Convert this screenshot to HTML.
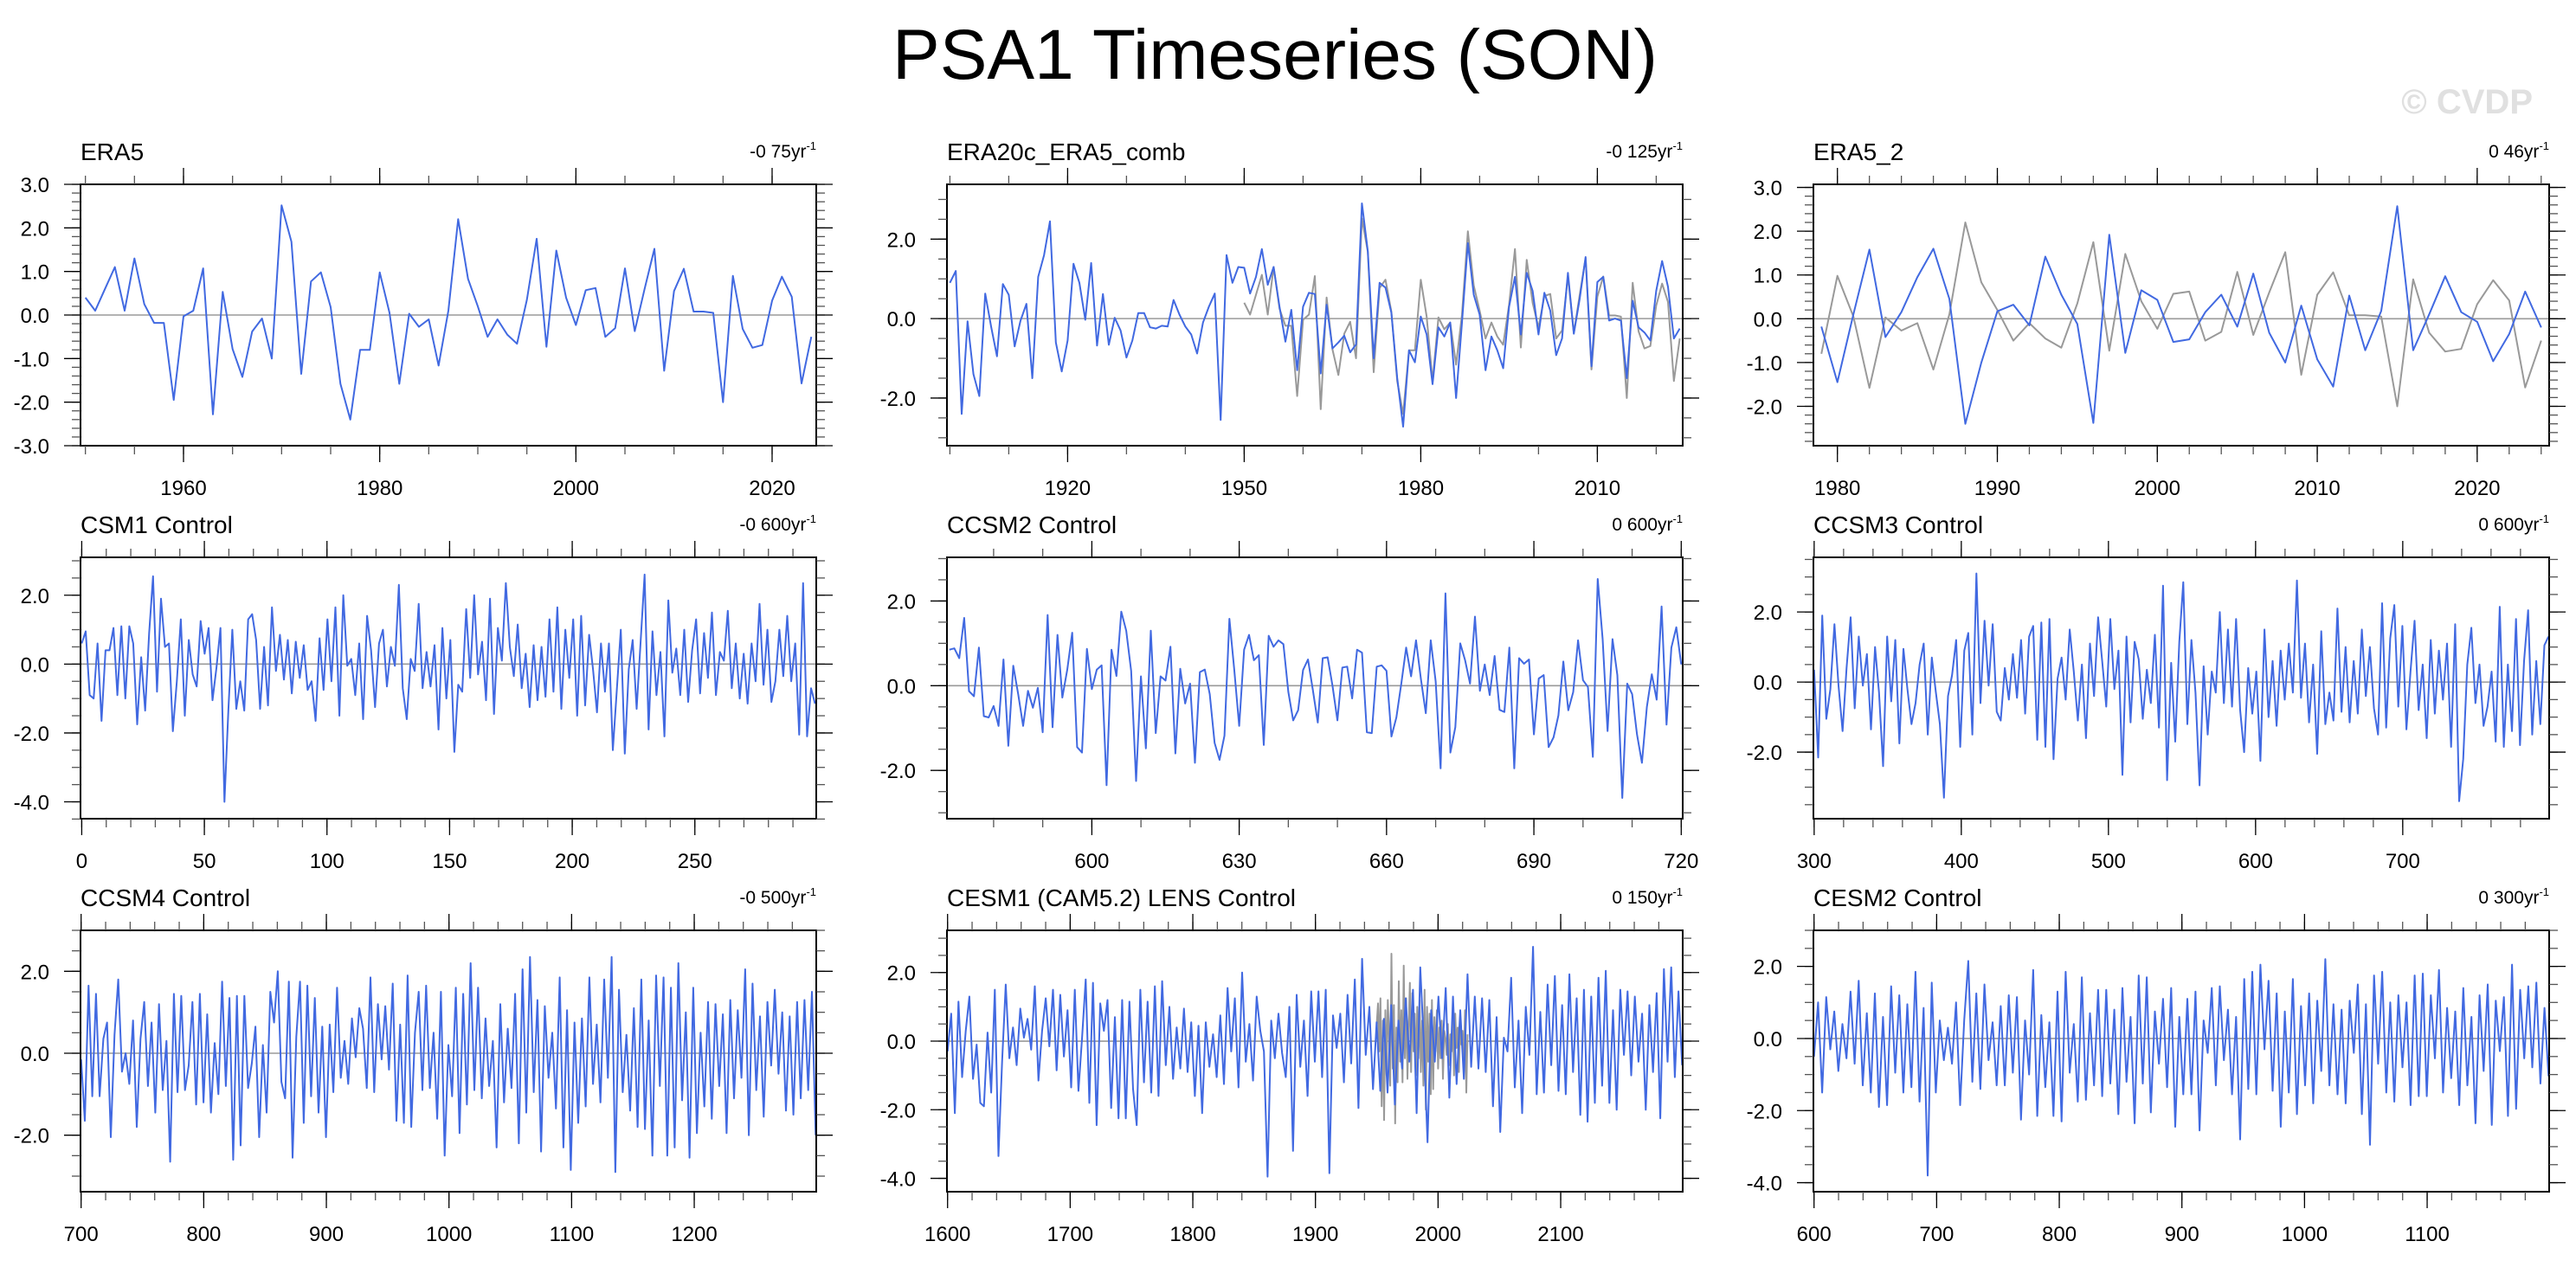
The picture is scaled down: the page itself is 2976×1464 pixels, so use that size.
<!DOCTYPE html>
<html>
<head>
<meta charset="utf-8">
<style>
  html,body{margin:0;padding:0;background:#fff;}
  svg{display:block;}
  text{font-family:"Liberation Sans",Arial,sans-serif;}
</style>
</head>
<body>
<svg id="chart" xmlns="http://www.w3.org/2000/svg" width="2976" height="1464" viewBox="0 0 2976 1464">
  <rect x="0" y="0" width="2976" height="1464" fill="#fff"/>
  <text x="1473" y="91" font-size="82" text-anchor="middle" fill="#000">PSA1 Timeseries (SON)</text>
  <text x="2926" y="131" font-size="40" font-weight="bold" text-anchor="end" fill="#e0e0e0">© CVDP</text>
</svg>
<script>
// ---- data arrays ----
const era5Start = 1950;
const era5 = [0.4,0.1,0.6,1.1,0.1,1.3,0.25,-0.18,-0.18,-1.95,-0.03,0.1,1.07,-2.28,0.53,-0.78,-1.42,-0.38,-0.08,-1.0,2.52,1.68,-1.35,0.77,0.98,0.18,-1.58,-2.4,-0.8,-0.8,0.98,0.05,-1.58,0.03,-0.27,-0.1,-1.16,0.1,2.2,0.83,0.2,-0.5,-0.1,-0.45,-0.66,0.35,1.75,-0.73,1.48,0.4,-0.23,0.57,0.62,-0.5,-0.3,1.07,-0.37,0.6,1.52,-1.28,0.55,1.06,0.08,0.08,0.05,-2.0,0.9,-0.32,-0.75,-0.69,0.33,0.88,0.42,-1.57,-0.5];

const era20cStart = 1900;
const era20c = [0.9,1.2,-2.4,-0.07,-1.4,-1.95,0.63,-0.2,-0.95,0.87,0.6,-0.7,-0.05,0.37,-1.5,1.05,1.6,2.45,-0.6,-1.33,-0.55,1.38,0.9,-0.03,1.4,-0.68,0.62,-0.66,0.02,-0.3,-0.98,-0.55,0.14,0.14,-0.22,-0.25,-0.18,-0.2,0.47,0.1,-0.2,-0.4,-0.88,-0.1,0.3,0.63,-2.55,1.6,0.9,1.3,1.28,0.63,1.05,1.75,0.85,1.3,0.3,-0.58,0.22,-1.3,0.3,0.65,0.62,-1.38,0.35,-0.75,-0.6,-0.43,-0.85,-0.65,2.9,1.7,-1.0,0.9,0.78,0.15,-1.5,-2.72,-0.8,-1.1,0.05,-0.4,-1.65,-0.22,-0.45,-0.1,-2.0,-0.1,1.9,0.6,0.1,-1.3,-0.45,-0.8,-1.25,0.3,1.05,-0.4,1.15,0.7,-0.4,0.65,0.2,-0.92,-0.5,1.15,-0.38,0.5,1.55,-1.2,0.92,1.05,-0.05,0.0,-0.05,-1.5,0.45,-0.22,-0.35,-0.55,0.7,1.45,0.8,-0.5,-0.25];

const era5b2Start = 1979;
const era5b2 = [-0.18,-1.45,0.1,1.58,-0.42,0.15,0.95,1.6,0.45,-2.4,-1.0,0.17,0.32,-0.15,1.42,0.55,-0.12,-2.38,1.92,-0.78,0.65,0.43,-0.53,-0.47,0.15,0.55,-0.18,1.03,-0.32,-1.0,0.3,-0.93,-1.55,0.53,-0.72,0.18,2.57,-0.72,0.1,0.97,0.15,-0.07,-0.97,-0.35,0.62,-0.2];

const csm1 = [0.6,0.95,-0.9,-1.0,0.6,-1.65,0.4,0.4,1.05,-0.9,1.1,-1.0,1.1,0.6,-1.75,0.2,-1.35,0.9,2.55,-0.8,1.9,0.5,0.6,-1.95,-0.5,1.3,-1.5,0.7,-0.3,-0.65,1.25,0.3,1.05,-1.05,-0.1,1.05,-4.0,-1.3,1.0,-1.3,-0.5,-1.35,1.3,1.45,0.7,-1.3,0.5,-1.2,1.65,-0.2,0.85,-0.45,0.7,-0.85,0.65,-0.4,0.55,-0.75,-0.5,-1.65,0.75,-0.75,1.3,-0.5,1.65,-1.5,2.0,-0.05,0.15,-0.9,0.6,-1.6,1.4,0.4,-1.25,0.6,1.0,-0.65,0.5,-0.05,2.3,-0.7,-1.6,0.15,-0.2,1.75,-0.7,0.35,-0.65,0.55,-1.9,1.05,-1.0,0.7,-2.55,-0.6,-0.8,1.6,-0.4,2.0,-0.3,0.65,-1.05,1.9,-1.45,1.05,0.1,2.35,0.5,-0.35,1.15,-0.7,0.3,-1.25,0.55,-1.05,0.5,-0.95,1.3,-0.8,1.65,-1.3,1.0,-0.4,1.3,-1.5,1.4,-1.2,0.85,-0.15,-1.4,0.6,-0.8,0.6,-2.5,-0.75,1.0,-2.6,-0.15,0.7,-1.3,0.65,2.6,-1.9,0.95,-0.9,0.35,-2.1,1.85,-0.25,0.45,-0.9,1.0,-1.1,0.4,1.3,-0.85,0.9,-0.4,1.5,-0.9,0.35,0.1,1.55,-0.7,0.6,-1.0,0.3,-1.15,0.6,-0.5,1.75,-0.6,1.0,-1.1,-0.5,1.0,-0.35,1.4,-0.5,0.6,-2.05,2.35,-2.1,-0.7,-1.15];
const csm1Range = [0, 299];

const ccsm2 = [0.85,0.88,0.65,1.6,-0.13,-0.25,0.9,-0.72,-0.75,-0.48,-0.95,0.62,-1.42,0.47,-0.2,-0.95,-0.12,-0.52,-0.05,-1.1,1.67,-0.98,1.2,-0.28,0.38,1.25,-1.45,-1.58,0.87,-0.08,0.38,0.48,-2.35,0.85,0.23,1.75,1.3,0.35,-2.25,0.22,-1.48,1.3,-1.12,0.22,0.12,0.92,-1.6,0.4,-0.42,0.05,-1.82,0.32,0.38,-0.2,-1.35,-1.75,-1.18,1.58,0.38,-0.95,0.85,1.2,0.6,0.72,-1.4,1.18,0.92,1.07,0.98,-0.15,-0.82,-0.58,0.37,0.62,-0.1,-0.87,0.65,0.67,0.0,-0.82,0.43,0.45,-0.3,0.85,0.78,-1.1,-1.12,0.45,0.48,0.35,-1.2,-0.75,0.05,0.9,0.22,1.07,0.15,-0.65,1.07,0.1,-1.95,2.18,-1.58,-0.98,1.0,0.6,0.05,1.63,-0.12,0.5,-0.22,0.7,-0.57,-0.62,0.9,-1.95,0.65,0.52,0.62,-1.15,0.17,0.25,-1.45,-1.22,-0.7,0.57,-0.58,-0.15,1.07,0.13,-0.03,-1.68,2.52,1.1,-1.07,1.1,0.25,-2.65,0.05,-0.2,-1.15,-1.82,-0.5,0.27,-0.33,1.87,-0.92,0.9,1.38,0.5];
const ccsm2Range = [571, 720];

const ccsm3 = [0.35,-2.15,1.9,-1.05,-0.2,1.65,-0.1,-1.4,0.4,1.85,-0.75,1.3,-0.1,0.8,-1.35,1.0,-0.3,-2.4,1.3,-0.55,1.2,-1.75,0.95,-0.2,-1.2,-0.6,0.5,1.1,-1.5,0.7,-0.3,-1.2,-3.3,-0.4,0.2,1.2,-1.85,0.9,1.4,-1.5,3.1,-0.6,1.75,-0.1,1.65,-0.85,-1.1,0.4,-0.5,0.8,-0.45,1.2,-0.9,1.3,1.6,-1.65,1.7,-1.85,1.8,-2.2,0.1,0.7,-0.5,1.5,0.3,-1.1,0.5,-1.6,1.1,-0.4,1.85,0.6,-0.7,1.8,-0.2,0.9,-2.65,1.3,-1.15,1.15,0.65,-1.05,0.35,-0.6,1.35,-1.3,2.75,-2.8,0.55,-1.7,1.15,2.85,-1.2,1.2,-0.3,-2.95,0.45,-1.5,0.3,-0.3,2.0,-0.6,1.5,-0.7,1.8,-0.8,-2.0,0.4,-0.9,0.3,-2.25,1.5,-1.0,0.6,-1.25,0.9,-0.5,1.1,-0.3,2.9,-0.45,1.1,-1.15,0.5,-2.05,1.45,-1.2,-0.3,-1.1,2.1,-0.85,1.0,-1.15,0.6,-0.9,1.5,-0.4,1.0,-0.75,-1.5,2.25,-1.3,1.25,2.2,-0.7,1.6,-1.35,0.3,1.75,-0.8,0.5,-1.6,1.2,-0.9,0.9,-0.5,1.1,-1.85,1.65,-3.4,-2.2,0.5,1.55,-0.6,0.5,-1.25,-0.7,0.3,-1.7,2.15,-1.85,0.5,-1.4,1.8,-1.8,0.6,2.05,-1.5,0.6,-1.2,1.05,1.3];
const ccsm3Range = [300, 799];

const ccsm4 = [-0.15,-1.65,1.65,-1.05,1.45,-1.05,0.35,0.75,-2.05,0.45,1.8,-0.45,0.0,-0.75,0.8,-1.8,0.35,1.25,-0.8,0.75,-1.45,1.2,-0.9,0.3,-2.65,1.45,-0.95,1.4,-0.9,-0.3,1.25,-1.25,1.45,-1.2,0.95,-1.45,0.25,-1.0,1.75,-0.8,1.35,-2.6,1.4,-2.25,1.4,-0.85,-0.25,0.65,-2.05,0.2,-1.45,1.5,0.75,2.0,-0.7,-1.1,1.75,-2.55,0.4,1.75,-1.7,1.65,-1.05,1.35,-1.45,0.65,-2.05,0.7,-0.95,1.6,-0.6,0.3,-0.75,0.85,-0.1,1.1,0.6,-0.85,1.85,-0.95,1.2,-0.15,1.15,-0.4,1.7,-1.65,0.7,-1.7,1.9,-1.8,0.5,1.5,-0.9,1.65,-0.85,0.5,-1.6,1.5,-2.5,0.2,-1.05,1.6,-1.95,1.45,-1.25,2.2,-0.9,1.6,-1.1,0.85,-0.8,0.3,-2.3,1.2,-1.2,0.6,-0.85,1.45,-2.2,2.05,-1.45,2.35,-0.95,1.3,-2.4,1.15,-0.6,0.5,-1.35,1.85,-2.3,1.05,-2.85,0.75,-1.7,0.85,-1.3,1.85,-0.75,0.7,-1.2,1.8,-0.6,2.35,-2.9,1.55,-0.95,0.45,-1.4,1.1,-1.8,1.8,-1.85,0.8,-2.5,1.9,-0.8,1.85,-2.5,1.6,-2.3,2.2,-1.15,1.0,-2.55,1.6,-1.95,0.5,-1.3,1.25,-1.6,1.2,-0.8,0.95,-1.95,1.3,-1.1,1.05,-0.6,2.05,-2.0,1.7,-0.9,0.9,-1.55,1.25,-0.3,1.55,-0.5,1.0,-1.4,0.9,-1.5,1.25,-1.1,1.3,-0.9,1.5,-2.0];
const ccsm4Range = [700, 1299];

const cesm1 = [-0.3,0.8,-2.1,1.15,-1.05,0.3,1.3,-1.1,-0.1,-1.8,-1.9,0.25,-1.5,1.5,-3.35,-0.6,1.65,-0.5,0.4,-0.7,0.95,0.1,0.65,-0.25,1.6,-1.15,0.3,1.25,-0.15,1.5,-0.85,1.35,-0.45,0.9,-1.35,1.5,-1.45,0.1,1.8,-1.8,1.7,-2.45,1.1,0.3,1.2,-1.95,0.7,-2.25,1.2,-2.25,1.15,-1.4,-2.45,1.5,-1.2,1.15,-1.5,1.6,-1.6,1.75,-0.7,1.0,-1.1,0.4,-0.8,0.95,-0.9,0.55,-1.6,0.45,-2.1,0.55,-0.75,0.2,-1.05,0.75,-1.25,1.55,-0.3,1.25,-1.35,2.0,-0.6,0.5,-1.15,1.3,0.3,-0.3,-3.95,0.6,-0.5,0.8,-0.35,-1.05,1.0,-3.2,1.35,-0.75,0.6,-1.6,1.45,-0.6,1.45,-1.05,1.5,-3.85,0.75,-0.2,0.8,-1.2,1.35,-0.65,1.8,-1.95,2.4,-0.4,1.0,-1.4,0.55,-1.45,0.65,-1.5,1.05,-1.85,0.6,-0.8,1.25,-0.6,1.5,-2.1,2.15,-0.1,-2.95,0.9,-0.6,1.3,-0.5,1.55,-1.65,1.3,-1.25,0.9,-1.1,1.95,-0.75,1.3,-0.8,1.25,-0.9,1.2,-1.9,0.7,-2.65,0.1,-0.3,1.85,-1.35,0.6,-2.1,1.0,-0.4,2.75,-1.55,0.85,-1.5,1.65,-0.7,1.9,-1.45,1.05,-1.55,1.95,-0.9,1.25,-2.15,1.5,-2.35,1.3,-1.8,1.85,-1.3,2.05,-1.8,0.9,-2.0,1.5,-0.4,1.45,-1.0,1.3,-0.6,0.8,-2.0,1.05,-0.9,1.4,-2.25,2.1,-0.6,2.15,-1.05,1.45,-0.7];
const cesm1Range = [1600, 2199];
const cesm1Obs = [0.5,1.1,-0.3,1.25,-1.9,0.6,-2.3,0.9,-1.0,1.2,0.2,-1.3,2.55,-0.8,1.05,-2.4,0.4,-1.2,1.75,-0.6,0.9,-1.2,2.2,-0.5,1.25,-1.1,0.4,1.7,-0.9,1.4,-0.3,0.8,-1.0,1.0,-0.5,1.2,-0.9,0.6,-1.3,1.5,-2.0,1.0,-0.6,0.8,-1.55,1.2,-1.4,0.7,-0.3,0.9,-0.8,0.4,-0.5,0.6,-1.1,0.3,0.1,-0.4,0.5,-0.7,0.2,-0.3,0.6,-1.0,0.8,-0.2,0.4,-0.9,0.5,-0.1,0.3,-0.6,0.9,-1.5,0.2];
const cesm1ObsRange = [1950, 2024];

const cesm2 = [-0.5,1.0,-1.5,1.15,-0.3,0.75,-0.9,0.4,-0.55,1.3,-0.7,1.6,-1.3,0.7,-1.5,1.25,-1.9,0.6,-1.85,1.45,-0.95,1.2,-1.5,0.95,-1.35,1.85,-1.75,0.85,-3.8,1.55,-1.5,0.5,-0.6,0.3,-0.7,1.0,-1.85,0.5,2.15,-1.2,1.25,-1.4,1.5,-0.6,0.45,-1.3,0.9,-1.3,1.2,-0.95,1.15,-2.25,0.5,-1.0,1.9,-2.15,0.65,-1.35,0.45,-2.15,1.3,-2.3,1.85,-0.95,0.4,-1.75,1.7,-1.7,0.7,-1.3,1.35,-1.6,1.35,-1.25,0.8,-2.1,1.4,-1.2,0.6,-2.35,1.75,-1.25,1.7,-2.05,0.75,-0.7,1.1,-1.35,1.4,-2.45,0.6,-1.55,1.1,-1.55,1.3,-2.55,0.5,-0.4,1.4,-1.3,1.45,-0.6,0.8,-1.55,0.6,-2.8,1.65,-1.4,1.85,-1.55,2.05,-0.3,1.6,-1.45,1.25,-2.45,0.75,-1.5,1.65,-2.1,0.9,-1.3,1.25,-1.8,1.05,-0.9,2.2,-1.3,0.95,-1.55,0.8,-1.8,1.05,-0.4,1.5,-2.1,0.95,-2.95,1.75,-0.7,1.85,-1.5,1.0,-1.75,1.2,-0.8,1.0,-1.85,1.75,-1.6,1.8,-1.6,1.2,-0.55,1.9,-1.5,0.85,-1.1,0.75,-1.85,1.4,-1.3,0.6,-2.35,1.2,-0.9,1.5,-2.4,1.05,-0.35,1.15,-2.15,2.05,-1.95,1.35,-0.55,1.45,-0.8,1.55,-1.25,0.85,-1.05];
const cesm2Range = [600, 1199];

// ---- layout ----
const NS = 'http://www.w3.org/2000/svg';
const svg = document.getElementById('chart');
const BLUE = '#4169e1', GRAY = '#999999';
const colX = [93, 1094, 2095], rowY = [213, 644, 1075];
const PW = 850, PH = 302;

function mk(tag, attrs, parent) {
  const e = document.createElementNS(NS, tag);
  for (const k in attrs) e.setAttribute(k, attrs[k]);
  (parent || svg).appendChild(e);
  return e;
}
function seq(a, b, step) { const r = []; for (let v = a; v <= b + 1e-9; v += step) r.push(+v.toFixed(6)); return r; }
function fmtY(v) { return (v < 0 ? '-' : '') + Math.abs(v).toFixed(1); }
function yearsFrom(start, n) { const r = []; for (let i = 0; i < n; i++) r.push(start + i); return r; }
function spread(range, n) { const r = []; for (let i = 0; i < n; i++) r.push(range[0] + i * (range[1] - range[0]) / (n - 1)); return r; }

const panels = [
  {name:'era5', title:'ERA5', trend:'-0 75', xd:[1949.5,2024.5], yd:[-3,3], xMaj:seq(1960,2020,20), xMin:seq(1950,2024,5), yMaj:seq(-3,3,1), yMin:seq(-3,3,0.2),
   series:[{x:yearsFrom(era5Start, era5.length), y:era5, c:BLUE}]},
  {name:'era20c-era5-comb', title:'ERA20c_ERA5_comb', trend:'-0 125', xd:[1899.5,2024.5], yd:[-3.2,3.38], xMaj:seq(1920,2010,30), xMin:seq(1900,2020,10), yMaj:[-2,0,2], yMin:seq(-3,3,0.5),
   series:[{x:yearsFrom(era5Start, era5.length), y:era5, c:GRAY},{x:yearsFrom(era20cStart, era20c.length), y:era20c, c:BLUE}]},
  {name:'era5-2', title:'ERA5_2', trend:'0 46', xd:[1978.5,2024.5], yd:[-2.9,3.07], xMaj:seq(1980,2020,10), xMin:seq(1980,2024,2), yMaj:seq(-2,3,1), yMin:seq(-2.8,3,0.2),
   series:[{x:yearsFrom(era5Start, era5.length).slice(29), y:era5.slice(29), c:GRAY},{x:yearsFrom(era5b2Start, era5b2.length), y:era5b2, c:BLUE}]},
  {name:'csm1-control', title:'CSM1 Control', trend:'-0 600', xd:[-0.5,299.5], yd:[-4.49,3.1], xMaj:seq(0,250,50), xMin:seq(0,290,10), yMaj:[-4,-2,0,2], yMin:seq(-4.5,3,0.5),
   series:[{x:spread(csm1Range, csm1.length), y:csm1, c:BLUE}]},
  {name:'ccsm2-control', title:'CCSM2 Control', trend:'0 600', xd:[570.5,720.3], yd:[-3.14,3.03], xMaj:seq(600,720,30), xMin:seq(580,720,10), yMaj:[-2,0,2], yMin:seq(-3,3,0.5),
   series:[{x:spread(ccsm2Range, ccsm2.length), y:ccsm2, c:BLUE}]},
  {name:'ccsm3-control', title:'CCSM3 Control', trend:'0 600', xd:[299.5,799.5], yd:[-3.9,3.56], xMaj:seq(300,700,100), xMin:seq(300,780,20), yMaj:[-2,0,2], yMin:seq(-3.5,3.5,0.5),
   series:[{x:spread(ccsm3Range, ccsm3.length), y:ccsm3, c:BLUE}]},
  {name:'ccsm4-control', title:'CCSM4 Control', trend:'-0 500', xd:[699.5,1299.5], yd:[-3.38,3.0], xMaj:seq(700,1200,100), xMin:seq(700,1280,20), yMaj:[-2,0,2], yMin:seq(-3,3,0.5),
   series:[{x:spread(ccsm4Range, ccsm4.length), y:ccsm4, c:BLUE}]},
  {name:'cesm1-lens-control', title:'CESM1 (CAM5.2) LENS Control', trend:'0 150', xd:[1599.5,2199.5], yd:[-4.39,3.23], xMaj:seq(1600,2100,100), xMin:seq(1600,2180,20), yMaj:[-4,-2,0,2], yMin:seq(-4,3,0.5),
   series:[{x:spread(cesm1ObsRange, cesm1Obs.length), y:cesm1Obs, c:GRAY},{x:spread(cesm1Range, cesm1.length), y:cesm1, c:BLUE}]},
  {name:'cesm2-control', title:'CESM2 Control', trend:'0 300', xd:[599.5,1199.5], yd:[-4.25,3.0], xMaj:seq(600,1100,100), xMin:seq(600,1180,20), yMaj:[-4,-2,0,2], yMin:seq(-4,3,0.5),
   series:[{x:spread(cesm2Range, cesm2.length), y:cesm2, c:BLUE}]}
];

panels.forEach((p, idx) => {
  const L = colX[idx % 3], T = rowY[Math.floor(idx / 3)], R = L + PW, B = T + PH;
  const sx = v => L + (v - p.xd[0]) / (p.xd[1] - p.xd[0]) * PW;
  const sy = v => B - (v - p.yd[0]) / (p.yd[1] - p.yd[0]) * PH;
  const g = mk('g', {});
  
  

  const t = mk('text', {x:L, y:T-28, 'font-size':28, fill:'#000'}, g);
  t.textContent = p.title;
  
  

  const tr = mk('text', {x:R, y:T-31, 'font-size':21, fill:'#000', 'text-anchor':'end'}, g);
  
  
  const ts1 = mk('tspan', {}, tr); ts1.textContent = p.trend + 'yr';
  const ts2 = mk('tspan', {dy:-9, 'font-size':13}, tr); ts2.textContent = '-1';

  const z = mk('line', {x1:L, x2:R, y1:sy(0), y2:sy(0), stroke:'#9a9a9a', 'stroke-width':1.6}, g);
  
  

  p.series.forEach((s) => {
    let d = '';
    s.x.forEach((xv, i) => { d += (i ? 'L' : 'M') + sx(xv).toFixed(1) + ',' + sy(s.y[i]).toFixed(1); });
    const path = mk('path', {d:d, fill:'none', stroke:s.c, 'stroke-width':2, 'stroke-linejoin':'round'}, g);
    
    
  });

  const fr = mk('rect', {x:L, y:T, width:PW, height:PH, fill:'none', stroke:'#000', 'stroke-width':2}, g);
  
  

  const tg = mk('g', {stroke:'#000', 'stroke-width':1.3}, g);
  
  
  p.xMin.forEach(v => { const x = sx(v); if (x < L-1 || x > R+1) return;
    mk('line', {x1:x, x2:x, y1:B, y2:B+10, stroke:'#555'}, tg); mk('line', {x1:x, x2:x, y1:T, y2:T-10, stroke:'#555'}, tg); });
  p.yMin.forEach(v => { const y = sy(v); if (y < T-1 || y > B+1) return;
    mk('line', {x1:L, x2:L-10, y1:y, y2:y, stroke:'#555'}, tg); mk('line', {x1:R, x2:R+10, y1:y, y2:y, stroke:'#555'}, tg); });
  p.xMaj.forEach(v => { const x = sx(v);
    mk('line', {x1:x, x2:x, y1:B, y2:B+19}, tg); mk('line', {x1:x, x2:x, y1:T, y2:T-19}, tg);
    const lb = mk('text', {x:x, y:B+57, 'font-size':24, 'text-anchor':'middle', fill:'#000', stroke:'none'}, g);
    lb.textContent = String(v);
    
    
  });
  p.yMaj.forEach(v => { const y = sy(v);
    mk('line', {x1:L, x2:L-19, y1:y, y2:y}, tg); mk('line', {x1:R, x2:R+19, y1:y, y2:y}, tg);
    const lb = mk('text', {x:L-36, y:y+9, 'font-size':24, 'text-anchor':'end', fill:'#000', stroke:'none'}, g);
    lb.textContent = fmtY(v);
    
    
  });
});
</script>
</body>
</html>
